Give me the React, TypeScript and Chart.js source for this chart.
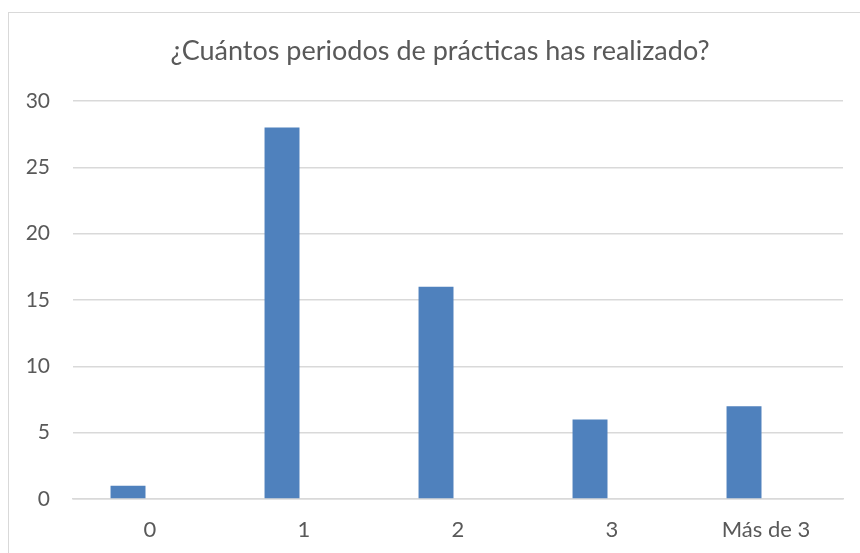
import React, { useEffect, useRef } from "react";
import { Chart, registerables } from "chart.js";

Chart.register(...registerables);

const titleText = "¿Cuántos periodos de prácticas has realizado?";
const categories = ["0", "1", "2", "3", "Más de 3"];
const values = [1, 28, 16, 6, 7];
const emptySeries = [null, null, null, null, null];
const yMin = 0;
const yMax = 30;
const yStep = 5;

const grey = "#595959";

const titlePlugin = {
  id: "centeredTitle",
  afterDraw(chart: any) {
    const ctx = chart.ctx;
    ctx.save();
    ctx.fillStyle = grey;
    ctx.font = "normal 27px Lato";
    ctx.textAlign = "center";
    ctx.textBaseline = "alphabetic";
    ctx.fillText(titleText, 440, 60);
    ctx.restore();
  },
};

export default function App() {
  const ref = useRef<HTMLCanvasElement | null>(null);

  useEffect(() => {
    const canvas = ref.current;
    if (!canvas) return;
    const chart = new Chart(canvas, {
      type: "bar",
      data: {
        labels: categories,
        datasets: [
          {
            label: "Respuestas",
            data: values,
            backgroundColor: "#4f81bd",
            borderWidth: 0,
            categoryPercentage: 0.571,
            barPercentage: 0.795,
          },
          {
            label: "",
            data: emptySeries as any,
            backgroundColor: "#c0504d",
            borderWidth: 0,
            categoryPercentage: 0.571,
            barPercentage: 0.795,
          },
        ],
      },
      options: {
        responsive: false,
        animation: false,
        devicePixelRatio: 1,
        layout: { padding: { left: 0, right: 17, top: 101, bottom: 0 } },
        plugins: {
          legend: { display: false },
          tooltip: { enabled: false },
          title: { display: false },
        },
        scales: {
          x: {
            grid: { display: false, drawTicks: false },
            border: { display: true, color: "#d9d9d9", width: 1.5 },
            ticks: {
              color: grey,
              font: { family: "Lato", size: 22 },
              padding: 18,
              maxRotation: 0,
            },
            afterFit: (s: any) => {
              s.height = 54;
            },
          },
          y: {
            min: yMin,
            max: yMax,
            grid: { color: "#d9d9d9", lineWidth: 1.5, drawTicks: false, tickLength: 0 },
            border: { display: false },
            ticks: {
              stepSize: yStep,
              color: grey,
              font: { family: "Lato", size: 21 },
              padding: 23,
            },
            afterFit: (s: any) => {
              s.width = 73;
            },
          },
        },
      },
      plugins: [titlePlugin],
    });
    return () => chart.destroy();
  }, []);

  return (
    <div style={{ position: "absolute", left: 0, top: 0, width: 860, height: 553, background: "#fff", overflow: "hidden" }}>
      <div
        style={{
          position: "absolute",
          left: 8,
          top: 12,
          width: 900,
          height: 600,
          borderLeft: "1.5px solid #d9d9d9",
          borderTop: "1.5px solid #d9d9d9",
        }}
      />
      <canvas ref={ref} width={860} height={553} style={{ position: "absolute", left: 0, top: 0, width: 860, height: 553 }} />
    </div>
  );
}
